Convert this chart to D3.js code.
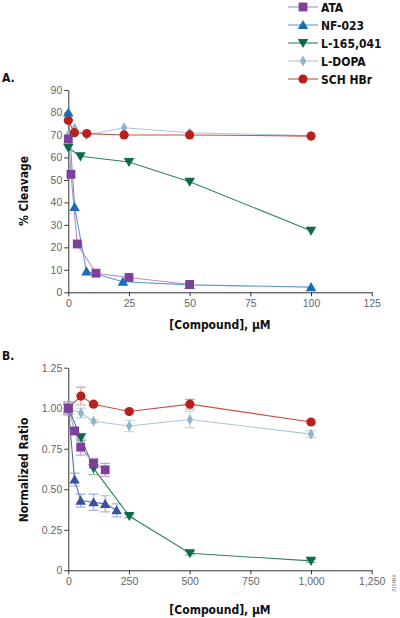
<!DOCTYPE html>
<html>
<head>
<meta charset="utf-8">
<script src="https://cdn.jsdelivr.net/npm/d3@7"></script>
<style>
body { margin: 0; background: #fff; }
svg { display: block; }
.tick text { font-family: "Liberation Sans", Arial, sans-serif; font-size: 10.5px; fill: #666; }
.title { font-family: "Liberation Sans Narrow", "DejaVu Sans Condensed", sans-serif; font-weight: bold; font-size: 12px; fill: #111; }
</style>
</head>
<body>
<svg id="chart" width="400" height="618"></svg>
<script>
// series names + colours (legend order)
const names = ["ATA", "NF-023", "L-165,041", "L-DOPA", "SCH HBr"];
const markColors = ["#7d3f98", "#1b6db3", "#0d6b4c", "#8db6ca", "#b7201c"];
const lineColors = ["#b58cc8", "#5b9bd0", "#2f8064", "#a9c8d8", "#c9504a"];
const markColorsB = ["#7d3f98", "#3a50a2", "#0d6b4c", "#8db6ca", "#b7201c"];
const errColors = ["#c4a3d4", "#a6b2da", "#8dbcaa", "#c3d8e3", "#e0a39f"];

// panel A : % cleavage vs compound (uM)
const ataX = [0, 1.1, 3.7, 11.4, 25, 50];
const ataY = [68.2, 52.5, 21.5, 8.5, 6.6, 3.5];
const nfX = [0, 2.6, 7.5, 22.5, 50, 100];
const nfY = [80, 38, 9.3, 4.7, 3.3, 2.3];
const lX = [0, 5, 25, 50, 100];
const lY = [64.3, 60.5, 58, 49.2, 27.4];
const dopaX = [0, 2.6, 7.5, 23, 50, 100];
const dopaY = [70, 73, 70, 73.2, 71, 69.7];
const schX = [0, 2.5, 7.6, 23, 50, 100];
const schY = [76.5, 71, 70.6, 70, 70, 69.5];

// panel B : normalized ratio vs compound (uM), with error
const ataBX = [0, 26, 51, 104, 152];
const ataBY = [1.0, 0.86, 0.76, 0.66, 0.62];
const ataBE = [0.04, 0.02, 0.05, 0.03, 0.04];
const nfBX = [0, 26, 51, 104, 152, 199];
const nfBY = [1.0, 0.56, 0.43, 0.42, 0.41, 0.37];
const nfBE = [0.04, 0.04, 0.04, 0.05, 0.05, 0.04];
const lBX = [0, 52, 104, 251, 501, 1000];
const lBY = [1.0, 0.82, 0.63, 0.335, 0.105, 0.058];
const lBE = [0.03, 0.02, 0.04, 0.01, 0.01, 0.01];
const dopaBX = [0, 52, 104, 251, 501, 1000];
const dopaBY = [1.0, 0.97, 0.92, 0.89, 0.93, 0.84];
const dopaBE = [0.03, 0.03, 0.01, 0.035, 0.05, 0.02];
const schBX = [0, 52, 104, 251, 501, 1000];
const schBY = [1.0, 1.075, 1.025, 0.98, 1.025, 0.915];
const schBE = [0.04, 0.055, 0.01, 0.01, 0.03, 0.01];

const aTicksY = d3.range(0, 91, 10);
const aTicksX = [0, 25, 50, 75, 100, 125];
const bTicksY = [0, 0.25, 0.5, 0.75, 1.0, 1.25];
const bTicksX = [0, 250, 500, 750, 1000, 1250];

const symbols = [d3.symbolSquare, d3.symbolTriangle, d3.symbolTriangle, d3.symbolDiamond, d3.symbolCircle];
const symSizes = [78, 48, 48, 34, 66];
const symRot = [0, 0, 180, 0, 0];

const svg = d3.select("#chart");

function marker(g, i, x, y, color) {
	g.append("path")
		.attr("d", d3.symbol().type(symbols[i]).size(symSizes[i])())
		.attr("fill", color)
		.attr("transform", "translate(" + x + "," + (y + (i == 1 ? 1 : i == 2 ? -1 : 0)) + ") rotate(" + symRot[i] + ")");
}

function drawAxes(g, x, y, xt, yt, yfmt, xfmt) {
	const ax = g.append("g").attr("transform", "translate(0," + y.range()[0] + ")")
		.call(d3.axisBottom(x).tickValues(xt).tickSize(4).tickSizeOuter(0).tickPadding(3).tickFormat(xfmt));
	const ay = g.append("g").attr("transform", "translate(" + x.range()[0] + ",0)")
		.call(d3.axisLeft(y).tickValues(yt).tickSize(4).tickSizeOuter(0).tickPadding(2).tickFormat(yfmt));
	g.selectAll(".domain, .tick line").attr("stroke", "#333").attr("stroke-width", 1);
}

// ---------- panel A ----------
const xA = d3.scaleLinear().domain([0, 125]).range([68.3, 371.7]);
const yA = d3.scaleLinear().domain([0, 90]).range([292.3, 90]);
const gA = svg.append("g");
drawAxes(gA, xA, yA, aTicksX, aTicksY, d3.format("d"), d3.format("d"));

const seriesA = [[ataX, ataY], [nfX, nfY], [lX, lY], [dopaX, dopaY], [schX, schY]];
const orderA = [3, 4, 2, 1, 0];
const line = d3.line();
orderA.forEach(function(i) {
	const pts = seriesA[i][0].map((v, k) => [xA(v), yA(seriesA[i][1][k])]);
	gA.append("path").attr("d", line(pts)).attr("fill", "none")
		.attr("stroke", lineColors[i]).attr("stroke-width", 1.1);
});
orderA.forEach(function(i) {
	seriesA[i][0].forEach((v, k) => marker(gA, i, xA(v), yA(seriesA[i][1][k]), markColors[i]));
});

gA.append("text").attr("class", "title").attr("x", 2).attr("y", 82).text("A.");
gA.append("text").attr("class", "title")
	.attr("transform", "translate(28,191) rotate(-90)").attr("text-anchor", "middle").text("% Cleavage");
gA.append("text").attr("class", "title").attr("x", 220).attr("y", 329)
	.attr("text-anchor", "middle").text("[Compound], µM");

// ---------- panel B ----------
const xB = d3.scaleLinear().domain([0, 1250]).range([68.3, 371.7]);
const yB = d3.scaleLinear().domain([0, 1.25]).range([570.3, 367.7]);
const gB = svg.append("g");
drawAxes(gB, xB, yB, bTicksX, bTicksY, d => d === 0 ? "0" : d3.format(".2f")(d), d3.format(","));

const seriesB = [[ataBX, ataBY, ataBE], [nfBX, nfBY, nfBE], [lBX, lBY, lBE], [dopaBX, dopaBY, dopaBE], [schBX, schBY, schBE]];
const orderB = [3, 4, 2, 1, 0];
orderB.forEach(function(i) {
	const s = seriesB[i];
	s[0].forEach(function(v, k) {
		const cx = xB(v), y1 = yB(s[1][k] + s[2][k]), y2 = yB(s[1][k] - s[2][k]);
		gB.append("path").attr("fill", "none").attr("stroke", errColors[i]).attr("stroke-width", 1.2)
			.attr("d", "M" + (cx - 5) + "," + y1 + "H" + (cx + 5) + "M" + cx + "," + y1 + "V" + y2 + "M" + (cx - 5) + "," + y2 + "H" + (cx + 5));
	});
});
orderB.forEach(function(i) {
	const s = seriesB[i];
	const pts = s[0].map((v, k) => [xB(v), yB(s[1][k])]);
	gB.append("path").attr("d", line(pts)).attr("fill", "none")
		.attr("stroke", i == 1 ? "#5a6cb5" : lineColors[i]).attr("stroke-width", 1.1);
});
orderB.forEach(function(i) {
	const s = seriesB[i];
	s[0].forEach((v, k) => marker(gB, i, xB(v), yB(s[1][k]), markColorsB[i]));
});

gB.append("text").attr("class", "title").attr("x", 2).attr("y", 360).text("B.");
gB.append("text").attr("class", "title")
	.attr("transform", "translate(28,470) rotate(-90)").attr("text-anchor", "middle").text("Normalized Ratio");
gB.append("text").attr("class", "title").attr("x", 220).attr("y", 614)
	.attr("text-anchor", "middle").text("[Compound], µM");

// ---------- legend ----------
const lg = svg.append("g");
names.forEach(function(n, i) {
	const y = 7 + i * 18;
	lg.append("line").attr("x1", 288).attr("x2", 318).attr("y1", y).attr("y2", y)
		.attr("stroke", lineColors[i]).attr("stroke-width", 1.1);
	marker(lg, i, 303, y, markColors[i]);
	lg.append("text").attr("class", "title").attr("x", 321).attr("y", y + 4.5).text(n);
});

svg.append("text").attr("transform", "translate(396,583) rotate(-90)")
	.attr("text-anchor", "middle").attr("font-family", "Liberation Sans, sans-serif")
	.attr("font-size", 4.5).attr("fill", "#777").text("8154MA");
</script>
</body>
</html>
